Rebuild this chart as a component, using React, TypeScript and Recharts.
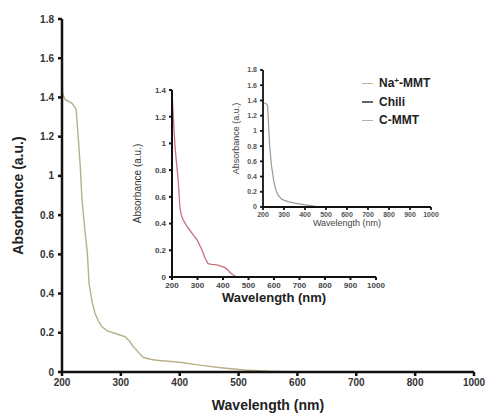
import React from "react";
import { LineChart, Line, XAxis, YAxis } from "recharts";

// Na+-MMT (main plot)
const naWavelength = [200, 201, 205, 217, 224, 227, 231, 234, 239, 243, 246, 251, 256, 262, 268, 277, 287, 297, 307, 314, 321, 330, 338, 350, 361, 380, 400, 434, 470, 510, 550, 600, 700, 800, 900];
const naAbsorbance = [1.6, 1.42, 1.39, 1.37, 1.34, 1.22, 1.05, 0.88, 0.72, 0.61, 0.45, 0.36, 0.3, 0.26, 0.23, 0.21, 0.2, 0.19, 0.18, 0.16, 0.13, 0.1, 0.075, 0.065, 0.06, 0.055, 0.05, 0.035, 0.022, 0.01, 0.004, 0, 0, 0, 0];

// Chili (first inset)
const chiliWavelength = [200, 205, 212, 218, 224, 231, 237, 243, 255, 270, 285, 298, 308, 318, 330, 341, 355, 376, 395, 408, 420, 427, 440, 455, 500, 600, 700, 800, 900, 1000];
const chiliAbsorbance = [1.4, 1.2, 0.97, 0.85, 0.73, 0.52, 0.46, 0.43, 0.39, 0.35, 0.31, 0.28, 0.24, 0.2, 0.14, 0.1, 0.095, 0.09, 0.08, 0.07, 0.05, 0.035, 0.015, 0, 0, 0, 0, 0, 0, 0];

// C-MMT (second inset)
const cmmtWavelength = [200, 215, 222, 226, 232, 240, 252, 262, 271, 290, 319, 350, 395, 450, 500, 600, 700, 800, 900, 1000];
const cmmtAbsorbance = [1.37, 1.36, 1.33, 1.1, 0.8, 0.55, 0.33, 0.22, 0.16, 0.1, 0.07, 0.05, 0.03, 0.01, 0, 0, 0, 0, 0, 0];

const mainXTicks = [200, 300, 400, 500, 600, 700, 800, 900];
const mainXTickLabels = ["200", "300", "400", "500", "600", "700", "800", "1000"];
const mainYTicks = [0, 0.2, 0.4, 0.6, 0.8, 1, 1.2, 1.4, 1.6, 1.8];
const insetXTicks = [200, 300, 400, 500, 600, 700, 800, 900, 1000];
const chiliYTicks = [0, 0.2, 0.4, 0.6, 0.8, 1, 1.2, 1.4];
const cmmtYTicks = [0, 0.2, 0.4, 0.6, 0.8, 1, 1.2, 1.4, 1.6, 1.8];

const legendItems = [
  { name: "Na", sup: "+", rest: "-MMT", color: "#b9b59c" },
  { name: "Chili", sup: "", rest: "", color: "#666666" },
  { name: "C-MMT", sup: "", rest: "", color: "#b0b0b0" },
];

const toRows = (xs: number[], ys: number[]) => xs.map((w, i) => ({ w, a: ys[i] }));

const FONT = "'Liberation Sans', Arial, sans-serif";

export default function App() {
  const naData = toRows(naWavelength, naAbsorbance);
  const chiliData = toRows(chiliWavelength, chiliAbsorbance);
  const cmmtData = toRows(cmmtWavelength, cmmtAbsorbance);

  return (
    <div style={{ position: "absolute", left: 0, top: 0, width: 487, height: 417, background: "#fff", fontFamily: FONT }}>
      {/* main plot */}
      <div style={{ position: "absolute", left: 0, top: 0 }}>
        <LineChart width={487} height={417} data={naData} margin={{ top: 19, right: 13, left: 0, bottom: 15 }}>
          <XAxis
            dataKey="w"
            type="number"
            domain={[200, 900]}
            ticks={mainXTicks}
            tickFormatter={(v: number) => mainXTickLabels[mainXTicks.indexOf(v)]}
            height={30}
            stroke="#111"
            strokeWidth={2.5}
            tickSize={4}
            tickMargin={3}
            tick={{ fontSize: 10, fontWeight: "bold", fill: "#333", fontFamily: FONT }}
            label={{ value: "Wavelength (nm)", position: "bottom", offset: -2, fontSize: 14, fontWeight: "bold", fill: "#222", fontFamily: FONT }}
          />
          <YAxis
            type="number"
            domain={[0, 1.8]}
            ticks={mainYTicks}
            width={62}
            stroke="#111"
            strokeWidth={2.5}
            tickSize={4}
            tickMargin={4}
            tick={{ fontSize: 10, fontWeight: "bold", fill: "#333", fontFamily: FONT }}
            label={{ value: "Absorbance (a.u.)", angle: -90, position: "insideLeft", offset: 18, fontSize: 14, fontWeight: "bold", fill: "#222", fontFamily: FONT, style: { textAnchor: "middle" } }}
          />
          <Line dataKey="a" type="linear" stroke="#b8b08a" strokeWidth={1.4} dot={false} isAnimationActive={false} />
        </LineChart>
      </div>

      {/* Chili inset */}
      <div style={{ position: "absolute", left: 130, top: 80 }}>
        <LineChart width={260} height={230} data={chiliData} margin={{ top: 10, right: 14, left: 0, bottom: 15 }}>
          <XAxis
            dataKey="w"
            type="number"
            domain={[200, 1000]}
            ticks={insetXTicks}
            height={18}
            stroke="#111"
            strokeWidth={2}
            tickSize={3}
            tickMargin={2}
            tick={{ fontSize: 8, fontWeight: "bold", fill: "#444", fontFamily: FONT }}
            label={{ value: "Wavelength (nm)", position: "bottom", offset: -2, fontSize: 13, fontWeight: "bold", fill: "#222", fontFamily: FONT }}
          />
          <YAxis
            type="number"
            domain={[0, 1.4]}
            ticks={chiliYTicks}
            width={42}
            stroke="#111"
            strokeWidth={2}
            tickSize={3}
            tickMargin={3}
            tick={{ fontSize: 8, fontWeight: "bold", fill: "#444", fontFamily: FONT }}
            label={{ value: "Absorbance (a.u.)", angle: -90, position: "insideLeft", offset: 7, fontSize: 10, fill: "#333", fontFamily: FONT, style: { textAnchor: "middle" } }}
          />
          <Line dataKey="a" type="linear" stroke="#c8707c" strokeWidth={1.3} dot={false} isAnimationActive={false} />
        </LineChart>
      </div>

      {/* C-MMT inset */}
      <div style={{ position: "absolute", left: 220, top: 55 }}>
        <LineChart width={225} height={185} data={cmmtData} margin={{ top: 15, right: 14, left: 0, bottom: 15 }}>
          <XAxis
            dataKey="w"
            type="number"
            domain={[200, 1000]}
            ticks={insetXTicks}
            height={18}
            stroke="#111"
            strokeWidth={1.8}
            tickSize={3}
            tickMargin={2}
            tick={{ fontSize: 7, fontWeight: "bold", fill: "#555", fontFamily: FONT }}
            label={{ value: "Wavelength (nm)", position: "bottom", offset: -5, fontSize: 9, fill: "#444", fontFamily: FONT }}
          />
          <YAxis
            type="number"
            domain={[0, 1.8]}
            ticks={cmmtYTicks}
            width={43}
            stroke="#111"
            strokeWidth={1.8}
            tickSize={3}
            tickMargin={3}
            tick={{ fontSize: 7, fontWeight: "bold", fill: "#555", fontFamily: FONT }}
            label={{ value: "Absorbance (a.u.)", angle: -90, position: "insideLeft", offset: 16, fontSize: 9, fill: "#444", fontFamily: FONT, style: { textAnchor: "middle" } }}
          />
          <Line dataKey="a" type="linear" stroke="#9a9a9a" strokeWidth={1.2} dot={false} isAnimationActive={false} />
        </LineChart>
      </div>

      {/* legend */}
      <div style={{ position: "absolute", left: 362, top: 74 }}>
        {legendItems.map((it) => (
          <div key={it.name} style={{ display: "flex", alignItems: "center", height: 18.5 }}>
            <span style={{ display: "inline-block", width: 11, height: 1.5, background: it.color, marginRight: 6 }} />
            <span style={{ fontSize: 12, fontWeight: "bold", color: "#222" }}>
              {it.name}
              {it.sup ? <sup style={{ fontSize: 8, verticalAlign: "4px", lineHeight: 0 }}>{it.sup}</sup> : null}
              {it.rest}
            </span>
          </div>
        ))}
      </div>
    </div>
  );
}
